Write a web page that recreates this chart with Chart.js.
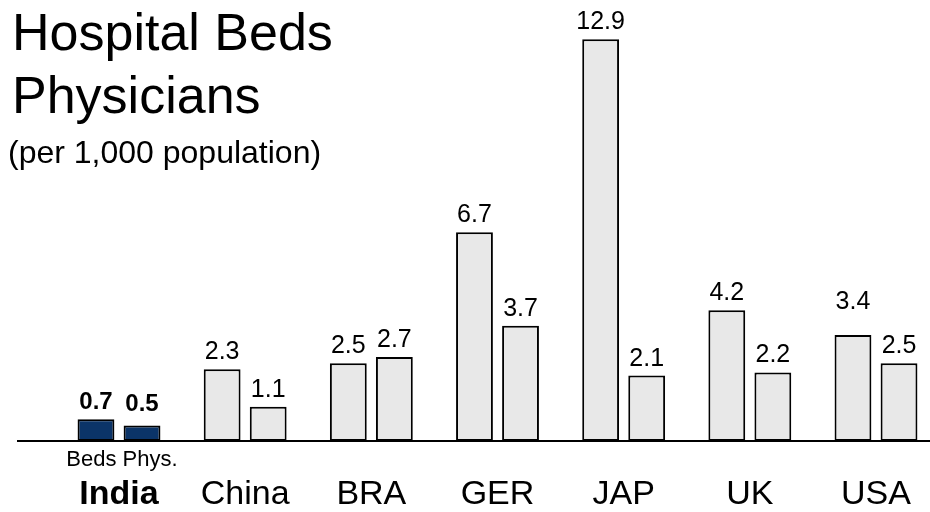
<!DOCTYPE html>
<html>
<head>
<meta charset="utf-8">
<script src="https://cdn.jsdelivr.net/npm/chart.js@4"></script>
<style>
  body { margin: 0; background: #fff; }
  #wrap { width: 930px; height: 512px; }
</style>
</head>
<body>
<div id="wrap"><canvas id="bedsChart" width="930" height="512"></canvas></div>
<script>
const countries = ['India', 'China', 'BRA', 'GER', 'JAP', 'UK', 'USA'];
const beds = [0.7, 2.3, 2.5, 6.7, 12.9, 4.2, 3.4];
const physicians = [0.5, 1.1, 2.7, 3.7, 2.1, 2.2, 2.5];

const FONT = '"Liberation Sans", Arial, sans-serif';
const INDIA_BLUE = '#0b3468';
const GREY = '#e8e8e8';

// India is highlighted, every other country is grey
const barColor = (ctx) => ctx.dataIndex === 0 ? INDIA_BLUE : GREY;

const barStyle = {
    backgroundColor: barColor,
    borderColor: '#000',
    borderWidth: 2,
    borderSkipped: false,
    categoryPercentage: 0.73,
    barPercentage: 0.8,
    clip: false
};

// extra lift for a few value labels, keyed "dataset-index"
const labelLift = { '1-0': 4, '0-6': 16 };

// Titles, baseline, value labels and the small Beds/Phys. caption
const annotations = {
    id: 'annotations',
    beforeDatasetsDraw(chart) {
        const ctx = chart.ctx;
        const y0 = chart.scales.y.getPixelForValue(0);
        ctx.save();
        ctx.strokeStyle = '#000';
        ctx.lineWidth = 2;
        ctx.beginPath();
        ctx.moveTo(17, y0);
        ctx.lineTo(chart.width, y0);
        ctx.stroke();
        ctx.restore();
    },
    afterDatasetsDraw(chart) {
        const ctx = chart.ctx;
        ctx.save();
        ctx.fillStyle = '#000';
        ctx.textAlign = 'center';
        ctx.textBaseline = 'alphabetic';
        chart.data.datasets.forEach((ds, di) => {
            chart.getDatasetMeta(di).data.forEach((bar, i) => {
                ctx.font = (i === 0 ? 'bold 24px ' : '25px ') + FONT;
                const lift = labelLift[di + '-' + i] || 0;
                ctx.fillText(ds.data[i].toFixed(1), bar.x, bar.y - 10 - lift);
            });
        });

        const y0 = chart.scales.y.getPixelForValue(0);
        ctx.font = '22px ' + FONT;
        ctx.fillText('Beds Phys.', chart.scales.x.getPixelForValue(0) + 3, y0 + 25);

        ctx.textAlign = 'left';
        ctx.font = '52px ' + FONT;
        ctx.fillText('Hospital Beds', 12, 50);
        ctx.fillText('Physicians', 12, 113);
        ctx.font = '32px ' + FONT;
        ctx.fillText('(per 1,000 population)', 8, 163);
        ctx.restore();
    }
};

const config = {
    type: 'bar',
    data: {
        labels: countries,
        datasets: [
            { label: 'Beds', data: beds, ...barStyle },
            { label: 'Physicians', data: physicians, ...barStyle }
        ]
    },
    options: {
        responsive: false,
        animation: false,
        layout: { padding: { left: 119, right: 54, top: 5, bottom: 0 } },
        scales: {
            x: {
                offset: false,
                grid: { display: false, drawTicks: false },
                border: { display: false },
                ticks: {
                    autoSkip: false,
                    maxRotation: 0,
                    padding: 33,
                    color: '#000',
                    font: (c) => ({ family: FONT, size: 34, weight: c.index === 0 ? 'bold' : 'normal' })
                },
                afterFit(scale) {
                    scale.height = 71;
                    scale.paddingLeft = 0;
                    scale.paddingRight = 0;
                }
            },
            y: { display: false, min: 0, max: 14 }
        },
        plugins: {
            legend: { display: false },
            tooltip: { enabled: false }
        }
    },
    plugins: [annotations]
};

const ctxBeds = document.getElementById('bedsChart').getContext('2d');
const bedsChart = new Chart(ctxBeds, config);
</script>
</body>
</html>
